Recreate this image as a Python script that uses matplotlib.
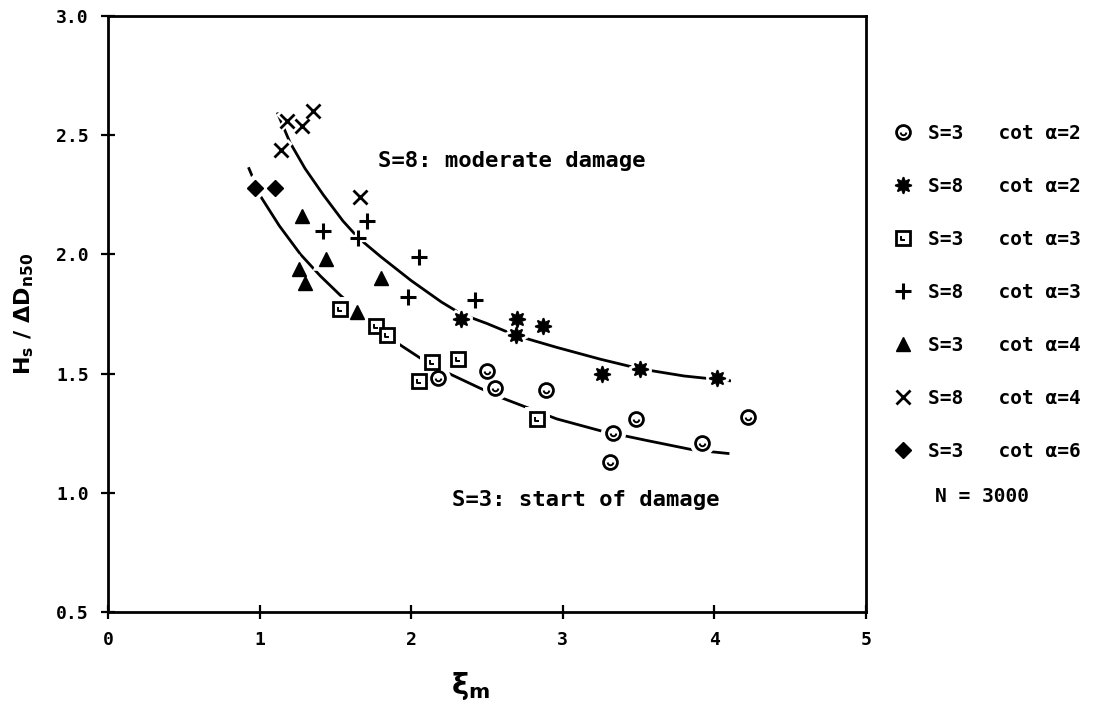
import matplotlib
matplotlib.use("Agg")
import matplotlib.pyplot as plt
from matplotlib.path import Path
import numpy as np

# ================= DATA =================
# S=3, cot a=2  (open circles)
circ_x = [2.18, 2.50, 2.55, 2.89, 3.33, 3.31, 3.48, 3.92, 4.22]
circ_y = [1.48, 1.51, 1.44, 1.43, 1.25, 1.13, 1.31, 1.21, 1.32]
# S=8, cot a=2  (asterisks)
ast_x = [2.33, 2.70, 2.69, 2.87, 3.26, 3.51, 4.02]
ast_y = [1.73, 1.73, 1.66, 1.70, 1.50, 1.52, 1.48]
# S=3, cot a=3  (open squares)
sq_x = [1.53, 1.77, 1.84, 2.14, 2.31, 2.05, 2.83]
sq_y = [1.77, 1.70, 1.66, 1.55, 1.56, 1.47, 1.31]
# S=8, cot a=3  (plus)
plus_x = [1.42, 1.65, 1.71, 2.05, 1.98, 2.42]
plus_y = [2.10, 2.07, 2.14, 1.99, 1.82, 1.81]
# S=3, cot a=4  (triangles)
tri_x = [1.28, 1.44, 1.26, 1.30, 1.80, 1.64]
tri_y = [2.16, 1.98, 1.94, 1.88, 1.90, 1.76]
# S=8, cot a=4  (crosses)
cross_x = [1.18, 1.28, 1.35, 1.14, 1.66]
cross_y = [2.56, 2.54, 2.60, 2.44, 2.24]
# S=3, cot a=6  (diamonds)
dia_x = [0.97, 1.10]
dia_y = [2.28, 2.28]

# design curves
s8_curve_x = [1.12, 1.20, 1.30, 1.42, 1.55, 1.65, 1.80, 2.00, 2.20, 2.33,
              2.50, 2.69, 2.96, 3.25, 3.51, 3.80, 4.10]
s8_curve_y = [2.59, 2.47, 2.36, 2.25, 2.14, 2.07, 1.99, 1.89, 1.80, 1.75,
              1.71, 1.66, 1.61, 1.56, 1.52, 1.49, 1.47]
s3_curve_x = [0.93, 0.97, 1.01, 1.13, 1.27, 1.40, 1.53, 1.71, 1.88, 2.06,
              2.25, 2.45, 2.59, 2.96, 3.25, 3.55, 3.86, 4.09]
s3_curve_y = [2.36, 2.30, 2.24, 2.12, 2.00, 1.91, 1.83, 1.73, 1.64, 1.565,
              1.50, 1.44, 1.40, 1.31, 1.26, 1.22, 1.18, 1.165]

damage_S = ["3", "8", "3", "8", "3", "8", "3"]
cot_alpha = ["2", "2", "3", "3", "4", "4", "6"]
n_waves = "3000"

x_ticks = [0, 1, 2, 3, 4, 5]
y_ticks = [0.5, 1.0, 1.5, 2.0, 2.5, 3.0]
# ==============================================================

plt.rcParams['font.family'] = ['DejaVu Sans Mono', 'DejaVu Sans']
plt.rcParams['font.weight'] = 'bold'
plt.rcParams['mathtext.default'] = 'regular'

fig = plt.figure(figsize=(10.99, 7.08), dpi=100)
ax = fig.add_axes([108 / 1099, 96 / 708, 758 / 1099, 596 / 708])

ax.plot(s8_curve_x, s8_curve_y, color='black', lw=2.0, zorder=2)
ax.plot(s3_curve_x, s3_curve_y, color='black', lw=2.0, zorder=2)

# small inner marks of the open symbols
theta = np.linspace(np.pi, 2 * np.pi, 11)
cup = Path(np.column_stack([np.cos(theta), np.sin(theta)]))
ell = Path([(-1, 1), (-1, -1), (1, -1)])

series = [
    (circ_x, circ_y, dict(marker='o', ms=10, mfc='white', mew=2.0)),
    (ast_x, ast_y, dict(marker=(8, 1, 0), ms=12, mfc='black', mew=1.2)),
    (sq_x, sq_y, dict(marker='s', ms=9.5, mfc='white', mew=2.0)),
    (plus_x, plus_y, dict(marker='+', ms=11, mew=2.2)),
    (tri_x, tri_y, dict(marker='^', ms=10, mfc='black', mew=1.0)),
    (cross_x, cross_y, dict(marker='x', ms=10, mew=2.0)),
    (dia_x, dia_y, dict(marker='D', ms=8.5, mfc='black', mew=1.0)),
]

handles = []
for i, (xs, ys, st) in enumerate(series):
    # white halo so the curves break around the symbols
    ax.plot(xs, ys, ls='none', marker=st['marker'], ms=st['ms'] + 3,
            mfc='white', mec='white', mew=st['mew'] + 3, zorder=3)
    h, = ax.plot(xs, ys, ls='none', color='black', mec='black', zorder=4, **st)
    if i == 0:
        inner, = ax.plot(xs, ys, ls='none', marker=cup, ms=4, mfc='none',
                         mec='black', mew=1.4, zorder=5)
        h = (h, inner)
    elif i == 2:
        inner, = ax.plot(xs, ys, ls='none', marker=ell, ms=3.5, mfc='none',
                         mec='black', mew=1.4, zorder=5)
        h = (h, inner)
    handles.append(h)

ax.text(1.78, 2.39, "S=8: moderate damage", fontsize=16, va='center')
ax.text(2.27, 0.97, "S=3: start of damage", fontsize=16, va='center')

ax.set_xlim(0, 5)
ax.set_ylim(0.5, 3.0)
ax.set_xticks(x_ticks)
ax.set_xticklabels([str(t) for t in x_ticks])
ax.set_yticks(y_ticks)
ax.set_yticklabels([f"{t:.1f}" for t in y_ticks])
ax.tick_params(direction='inout', length=10, width=1.6, labelsize=13, pad=9)
for sp in ax.spines.values():
    sp.set_linewidth(2.0)

ax.set_ylabel(r'H$_s$ / $\Delta$D$_{n50}$', family='DejaVu Sans',
              fontsize=16, fontweight='bold', labelpad=14)
ax.text(0.478, -0.125, r'ξ$_m$', transform=ax.transAxes, family='DejaVu Sans',
        fontsize=21, fontweight='bold', ha='center', va='center')

labels = [f"S={s}   cot α={c}" for s, c in zip(damage_S, cot_alpha)]
ax.legend(handles, labels, loc='upper left',
          bbox_to_anchor=(893 / 1099, 1 - 124 / 708),
          bbox_transform=fig.transFigure, frameon=False,
          handlelength=1.0, handletextpad=0.8, labelspacing=1.75,
          borderpad=0, borderaxespad=0, prop={'size': 14, 'weight': 'bold'})
fig.text(935 / 1099, 1 - 497 / 708, f"N = {n_waves}", fontsize=14,
         va='center', ha='left')

fig.savefig("out.png", dpi=100)
